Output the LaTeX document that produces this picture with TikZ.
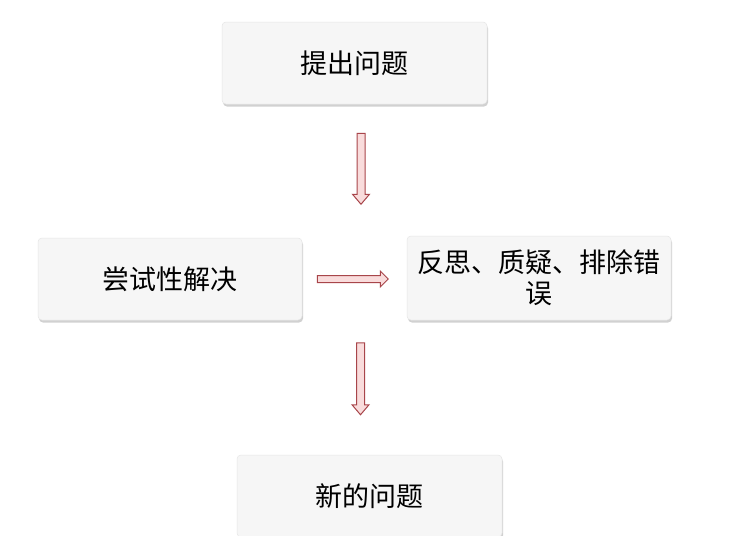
\documentclass[tikz,border=0pt]{standalone}
\usepackage{fontspec}
\newfontfamily\cjk{Noto Sans CJK SC}
\usetikzlibrary{calc,shadows}
\definecolor{boxfill}{HTML}{F6F6F6}
\definecolor{boxline}{HTML}{E6E6E6}
\definecolor{arrline}{HTML}{A8454A}
\definecolor{arrfill}{HTML}{F9DCDC}
\tikzset{
  box/.style={rectangle, rounded corners=4pt, fill=boxfill, draw=boxline, line width=0.5pt,
    minimum width=265pt, minimum height=82pt, inner sep=0pt, align=center,
    font=\cjk\fontsize{27}{31}\selectfont, text=black,
    drop shadow={shadow xshift=1pt, shadow yshift=-2.5pt, opacity=0.4, fill=black!45}},
  arr/.style={draw=arrline, fill=arrfill, line width=1pt, line join=miter}
}
\begin{document}
\begin{tikzpicture}[x=1pt,y=-1pt]
\useasboundingbox (0,0) rectangle (740,536);
\fill[white] (0,0) rectangle (740,536);
\node[box] (q) at (354.5,63) {提出问题};
\node[box, minimum width=264pt] (t) at (170,279) {尝试性解决};
\node[box, minimum width=264pt, minimum height=84pt] (r) at (539,278) {反思、质疑、排除错\\误};
\node[box] (n) at (369.5,496) {新的问题};
% connector anchor points
\coordinate (a1) at ($(q.south)+(6.5,29)$);
\coordinate (a2) at ($(t.east)+(15,0)$);
\coordinate (a3) at ($(n.north)+(-9,-112)$);
% down arrow 1
\draw[arr] ($(a1)+(-4,0)$) -- ++(0,61) -- ++(-4.5,0) -- ($(a1)+(0,71)$) -- ($(a1)+(8.5,61)$) -- ++(-4.5,0) -- ($(a1)+(4,0)$) -- cycle;
% right arrow
\draw[arr] ($(a2)+(0,-3.5)$) -- ++(63,0) -- ++(0,-4.5) -- ($(a2)+(71,0)$) -- ($(a2)+(63,8)$) -- ++(0,-4.5) -- ($(a2)+(0,3.5)$) -- cycle;
% down arrow 2
\draw[arr] ($(a3)+(-4,0)$) -- ++(0,62) -- ++(-4.5,0) -- ($(a3)+(0,72)$) -- ($(a3)+(8.5,62)$) -- ++(-4.5,0) -- ($(a3)+(4,0)$) -- cycle;
\end{tikzpicture}
\end{document}
